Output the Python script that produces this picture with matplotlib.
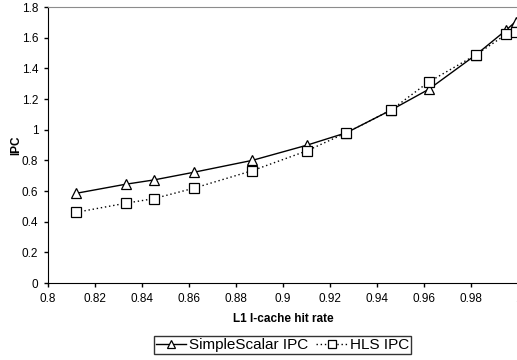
import matplotlib
matplotlib.use('Agg')
import matplotlib.pyplot as plt

# L1 I-cache hit rate vs IPC
hit_rate = [0.812, 0.833, 0.845, 0.862, 0.887, 0.910, 0.927, 0.946, 0.962, 0.982, 0.995, 0.999]
simplescalar_ipc = [0.585, 0.644, 0.672, 0.722, 0.800, 0.898, 0.980, 1.128, 1.263, 1.487, 1.650, 1.705]
hls_ipc = [0.461, 0.520, 0.550, 0.618, 0.733, 0.861, 0.980, 1.128, 1.311, 1.487, 1.622, 1.635]

x_ticks = [0.8, 0.82, 0.84, 0.86, 0.88, 0.9, 0.92, 0.94, 0.96, 0.98, 1.0]
x_labels = ['0.8', '0.82', '0.84', '0.86', '0.88', '0.9', '0.92', '0.94', '0.96', '0.98', '1']
y_ticks = [0, 0.2, 0.4, 0.6, 0.8, 1.0, 1.2, 1.4, 1.6, 1.8]
y_labels = ['0', '0.2', '0.4', '0.6', '0.8', '1', '1.2', '1.4', '1.6', '1.8']

plt.rcParams['font.family'] = ['Liberation Sans', 'DejaVu Sans']

fig = plt.figure(figsize=(5.17, 3.6), dpi=100)
ax = fig.add_axes([48 / 517, 77 / 360, 470 / 517, 276 / 360])

ax.plot(hit_rate, simplescalar_ipc, color='black', linewidth=1.0, linestyle='-',
        marker='^', markersize=6.5, markerfacecolor='white', markeredgecolor='black',
        markeredgewidth=0.9, label='SimpleScalar IPC', clip_on=False, zorder=3)
ax.plot(hit_rate, hls_ipc, color='black', linewidth=1.0, linestyle=(0, (1, 2)),
        marker='s', markersize=6.5, markerfacecolor='white', markeredgecolor='black',
        markeredgewidth=0.9, label='HLS IPC', clip_on=False, zorder=4)

ax.set_xlim(0.8, 1.0)
ax.set_ylim(0, 1.8)
ax.set_xticks(x_ticks)
ax.set_xticklabels(x_labels)
ax.set_yticks(y_ticks)
ax.set_yticklabels(y_labels)
ax.tick_params(axis='both', direction='out', length=3, width=1, labelsize=8.5, pad=4)

ax.spines['right'].set_visible(False)
ax.spines['top'].set_color('#8c8c8c')
ax.spines['left'].set_color('black')
ax.spines['bottom'].set_color('black')

ax.set_xlabel('L1 I-cache hit rate', fontsize=8.5, fontweight='bold', labelpad=6)
ax.set_ylabel('IPC', fontsize=8.5, fontweight='bold')
ax.yaxis.set_label_coords((22 - 48) / 470, 0.5)

leg = fig.legend(loc='center', bbox_to_anchor=(282.5 / 517, 1 - 345 / 360), ncol=2,
                 fontsize=11, frameon=True, fancybox=False, shadow=False,
                 handlelength=2.0, handletextpad=0.2, columnspacing=0.5,
                 borderpad=0.15, borderaxespad=0, markerscale=0.8)
leg.get_frame().set_edgecolor('black')
leg.get_frame().set_linewidth(1.0)

fig.savefig('out.png', dpi=100)
plt.close(fig)
